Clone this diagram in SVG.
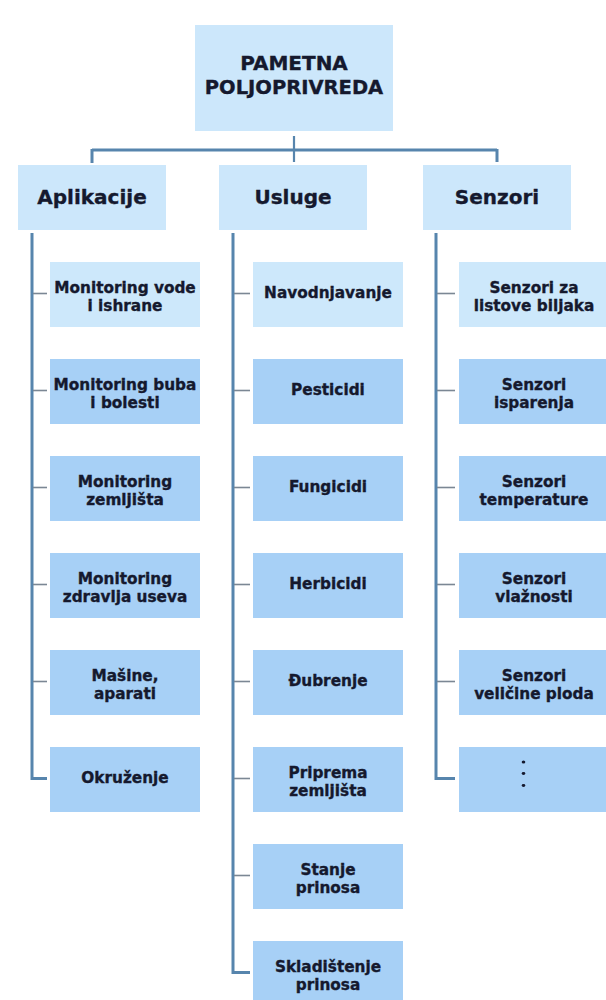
<svg xmlns="http://www.w3.org/2000/svg" width="606" height="1000" viewBox="0 0 606 1000">
<style>
.t{font-family:"DejaVu Sans","Liberation Sans",sans-serif;font-weight:bold;fill:#15192e;text-anchor:middle;stroke:#15192e;stroke-width:0.35}
.top{font-size:20px}
.c{font-size:15.3px}
.s{font-size:15.3px}
.lt{fill:#cde8fb}
.dk{fill:#a7d0f6}
.hub{fill:#cce7fb}
.main{stroke:#5785ad;stroke-width:3;fill:none}
.tick{stroke:#7b8794;stroke-width:1.6;fill:none}
</style>
<rect width="606" height="1000" fill="#ffffff"/>
<g id="connectors">
  <line class="main" x1="92" y1="150" x2="497" y2="150"/>
  <line class="main" x1="92" y1="149" x2="92" y2="163"/>
  <line class="main" x1="497" y1="149" x2="497" y2="162"/>
  <line class="main" x1="294" y1="136" x2="294" y2="162" style="stroke-width:2.2"/>
  <polyline class="main" points="32,233 32,778.5 47,778.5"/>
  <polyline class="main" points="233,233 233,972.5 250,972.5"/>
  <polyline class="main" points="436,233 436,778.5 455,778.5"/>
  <line class="tick" x1="33" y1="293.5" x2="47" y2="293.5"/>
  <line class="tick" x1="33" y1="390.5" x2="47" y2="390.5"/>
  <line class="tick" x1="33" y1="487.5" x2="47" y2="487.5"/>
  <line class="tick" x1="33" y1="584.5" x2="47" y2="584.5"/>
  <line class="tick" x1="33" y1="681.5" x2="47" y2="681.5"/>
  <line class="tick" x1="234" y1="293.5" x2="250" y2="293.5"/>
  <line class="tick" x1="234" y1="390.5" x2="250" y2="390.5"/>
  <line class="tick" x1="234" y1="487.5" x2="250" y2="487.5"/>
  <line class="tick" x1="234" y1="584.5" x2="250" y2="584.5"/>
  <line class="tick" x1="234" y1="681.5" x2="250" y2="681.5"/>
  <line class="tick" x1="234" y1="778.5" x2="250" y2="778.5"/>
  <line class="tick" x1="234" y1="875.5" x2="250" y2="875.5"/>
  <line class="tick" x1="437" y1="293.5" x2="455" y2="293.5"/>
  <line class="tick" x1="437" y1="390.5" x2="455" y2="390.5"/>
  <line class="tick" x1="437" y1="487.5" x2="455" y2="487.5"/>
  <line class="tick" x1="437" y1="584.5" x2="455" y2="584.5"/>
  <line class="tick" x1="437" y1="681.5" x2="455" y2="681.5"/>
</g>
<g id="root"><rect class="hub" x="195" y="25" width="198" height="106"/><text class="t top" x="294" y="70">PAMETNA</text><text class="t top" x="294" y="94" style="font-size:19.5px">POLJOPRIVREDA</text></g>
<g id="aplikacije"><rect class="hub" x="18" y="165" width="148" height="65"/><text class="t top" x="92" y="204">Aplikacije</text></g>
<g id="usluge"><rect class="hub" x="219" y="165" width="148" height="65"/><text class="t top" x="293" y="204">Usluge</text></g>
<g id="senzori"><rect class="hub" x="423" y="165" width="148" height="65"/><text class="t top" x="497" y="204">Senzori</text></g>

<g id="a1"><rect class="lt" x="50" y="262" width="150" height="65"/><text class="t s" x="125" y="292.5">Monitoring vode</text><text class="t c" x="125" y="310.5">i ishrane</text></g>
<g id="a2"><rect class="dk" x="50" y="359" width="150" height="65"/><text class="t s" x="125" y="389.5">Monitoring buba</text><text class="t c" x="125" y="407.5">i bolesti</text></g>
<g id="a3"><rect class="dk" x="50" y="456" width="150" height="65"/><text class="t c" x="125" y="486.5">Monitoring</text><text class="t c" x="125" y="504.5">zemljišta</text></g>
<g id="a4"><rect class="dk" x="50" y="553" width="150" height="65"/><text class="t c" x="125" y="583.5">Monitoring</text><text class="t c" x="125" y="601.5">zdravlja useva</text></g>
<g id="a5"><rect class="dk" x="50" y="650" width="150" height="65"/><text class="t c" x="125" y="680.5">Mašine,</text><text class="t c" x="125" y="698.5">aparati</text></g>
<g id="a6"><rect class="dk" x="50" y="747" width="150" height="65"/><text class="t c" x="125" y="782.5">Okruženje</text></g>

<g id="u1"><rect class="lt" x="253" y="262" width="150" height="65"/><text class="t c" x="328" y="297.5">Navodnjavanje</text></g>
<g id="u2"><rect class="dk" x="253" y="359" width="150" height="65"/><text class="t c" x="328" y="394.5">Pesticidi</text></g>
<g id="u3"><rect class="dk" x="253" y="456" width="150" height="65"/><text class="t c" x="328" y="491.5">Fungicidi</text></g>
<g id="u4"><rect class="dk" x="253" y="553" width="150" height="65"/><text class="t c" x="328" y="588.5">Herbicidi</text></g>
<g id="u5"><rect class="dk" x="253" y="650" width="150" height="65"/><text class="t c" x="328" y="685.5">Đubrenje</text></g>
<g id="u6"><rect class="dk" x="253" y="747" width="150" height="65"/><text class="t c" x="328" y="777.5">Priprema</text><text class="t c" x="328" y="795.5">zemljišta</text></g>
<g id="u7"><rect class="dk" x="253" y="844" width="150" height="65"/><text class="t c" x="328" y="874.5">Stanje</text><text class="t c" x="328" y="892.5">prinosa</text></g>
<g id="u8"><rect class="dk" x="253" y="941" width="150" height="65"/><text class="t c" x="328" y="971.5">Skladištenje</text><text class="t c" x="328" y="989.5">prinosa</text></g>

<g id="s1"><rect class="lt" x="459" y="262" width="150" height="65"/><text class="t c" x="534" y="292.5">Senzori za</text><text class="t c" x="534" y="310.5">listove biljaka</text></g>
<g id="s2"><rect class="dk" x="459" y="359" width="150" height="65"/><text class="t c" x="534" y="389.5">Senzori</text><text class="t c" x="534" y="407.5">isparenja</text></g>
<g id="s3"><rect class="dk" x="459" y="456" width="150" height="65"/><text class="t c" x="534" y="486.5">Senzori</text><text class="t c" x="534" y="504.5">temperature</text></g>
<g id="s4"><rect class="dk" x="459" y="553" width="150" height="65"/><text class="t c" x="534" y="583.5">Senzori</text><text class="t c" x="534" y="601.5">vlažnosti</text></g>
<g id="s5"><rect class="dk" x="459" y="650" width="150" height="65"/><text class="t c" x="534" y="680.5">Senzori</text><text class="t c" x="534" y="698.5">veličine ploda</text></g>
<g id="s6"><rect class="dk" x="459" y="747" width="150" height="65"/><g fill="#15192e"><ellipse cx="523.5" cy="762" rx="1.8" ry="1.6"/><ellipse cx="523.5" cy="773.5" rx="1.8" ry="1.4"/><ellipse cx="523.5" cy="785.5" rx="1.8" ry="1.4"/></g></g>
</svg>
